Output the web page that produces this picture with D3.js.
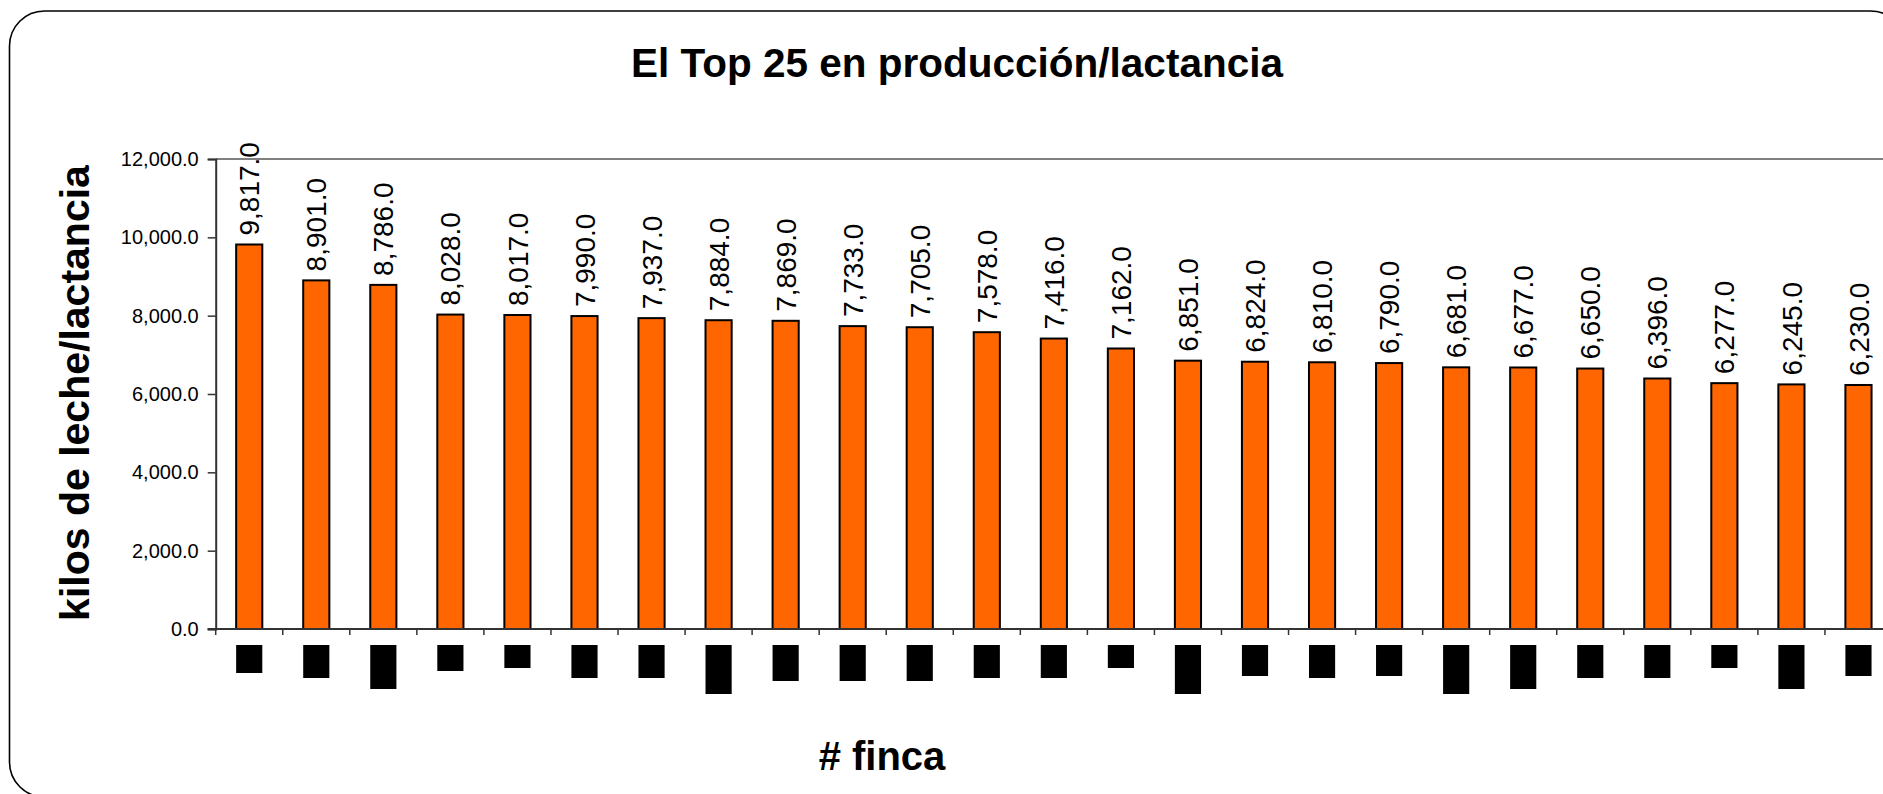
<!DOCTYPE html>
<html>
<head>
<meta charset="utf-8">
<script src="https://cdn.jsdelivr.net/npm/d3@7"></script>
<style>
  html, body { margin: 0; padding: 0; background: #fff; }
  svg { display: block; font-family: "Liberation Sans", Arial, sans-serif; }
</style>
</head>
<body>
<svg id="chart" width="1883" height="794"></svg>
<script>
// ---- data ----
const chartTitle = "El Top 25 en producción/lactancia";
const yTitle = "kilos de leche/lactancia";
const xTitle = "# finca";
// finca identifiers are redacted (black boxes) in the source picture
const fincas = d3.range(1, 26).map(i => "F" + i);
const produccion = [9817, 8901, 8786, 8028, 8017, 7990, 7937, 7884, 7869, 7733,
                    7705, 7578, 7416, 7162, 6851, 6824, 6810, 6790, 6681, 6677,
                    6650, 6396, 6277, 6245, 6230];
// length of each redacted finca label (as seen in the picture)
const hiddenLabelLength = [28, 33, 44, 26, 23, 33, 33, 49, 36, 36,
                           36, 33, 33, 23, 49, 31, 33, 31, 49, 44,
                           33, 33, 23, 44, 31];
const yTicks = [0, 2000, 4000, 6000, 8000, 10000, 12000];

// ---- layout ----
const svg = d3.select("#chart");
const plot = { left: 215.7, top: 159, right: 1892, bottom: 629 };

svg.append("rect")
  .attr("x", 9.5).attr("y", 11).attr("width", 1896).attr("height", 786)
  .attr("rx", 35).attr("ry", 35)
  .attr("fill", "#fff").attr("stroke", "#000").attr("stroke-width", 1.6);

const x = d3.scaleBand().domain(fincas).range([plot.left, plot.right]).paddingInner(0).paddingOuter(0);
const y = d3.scaleLinear().domain([0, 12000]).range([plot.bottom, plot.top]);
const barW = x.bandwidth() * 0.39;
const fmt = d3.format(",.1f");

// plot-area border (top & right), gray
svg.append("path")
  .attr("d", `M${plot.left},${plot.top}H${plot.right}V${plot.bottom}`)
  .attr("fill", "none").attr("stroke", "#808080").attr("stroke-width", 2);

// bars
svg.append("g").selectAll("rect").data(produccion).join("rect")
  .attr("x", (d, i) => x(fincas[i]) + (x.bandwidth() - barW) / 2)
  .attr("y", d => y(d))
  .attr("width", barW)
  .attr("height", d => y(0) - y(d))
  .attr("fill", "#FF6600").attr("stroke", "#000").attr("stroke-width", 2);

// value labels (rotated)
svg.append("g").selectAll("text").data(produccion).join("text")
  .attr("transform", (d, i) => `translate(${x(fincas[i]) + x.bandwidth() / 2},${y(d) - 9}) rotate(-90)`)
  .attr("dy", "0.36em")
  .attr("text-anchor", "start")
  .attr("font-size", 28)
  .attr("fill", "#000")
  .text(d => fmt(d));

// y axis
const yAxis = d3.axisLeft(y).tickValues(yTicks).tickFormat(fmt).tickSize(8).tickPadding(9);
const gy = svg.append("g").attr("transform", `translate(${plot.left},0)`).call(yAxis);
gy.select(".domain").attr("stroke", "#333").attr("stroke-width", 2);
gy.selectAll(".tick line").attr("stroke", "#333").attr("stroke-width", 1.5);
gy.selectAll(".tick text").attr("font-size", 20).attr("fill", "#000")
  .attr("font-family", "'Liberation Sans', Arial, sans-serif");

// x axis (ticks at band boundaries, labels redacted)
const gx = svg.append("g").attr("transform", `translate(0,${plot.bottom})`);
gx.append("line").attr("x1", plot.left - 8).attr("x2", plot.right)
  .attr("stroke", "#333").attr("stroke-width", 2);
gx.selectAll("line.tk").data(fincas).join("line").attr("class", "tk")
  .attr("x1", d => x(d)).attr("x2", d => x(d))
  .attr("y1", 0).attr("y2", 6)
  .attr("stroke", "#333").attr("stroke-width", 1.5);

// redacted category labels
svg.append("g").selectAll("rect").data(hiddenLabelLength).join("rect")
  .attr("x", (d, i) => x(fincas[i]) + (x.bandwidth() - barW) / 2)
  .attr("y", plot.bottom + 16)
  .attr("width", barW)
  .attr("height", d => d)
  .attr("fill", "#000");

// titles
svg.append("text").attr("x", 957).attr("y", 77)
  .attr("text-anchor", "middle").attr("font-size", 40.5).attr("font-weight", "bold")
  .text(chartTitle);

svg.append("text").attr("transform", "translate(89,393) rotate(-90)")
  .attr("text-anchor", "middle").attr("font-size", 41).attr("font-weight", "bold")
  .text(yTitle);

svg.append("text").attr("x", 882).attr("y", 770)
  .attr("text-anchor", "middle").attr("font-size", 40).attr("font-weight", "bold")
  .text(xTitle);
</script>
</body>
</html>
